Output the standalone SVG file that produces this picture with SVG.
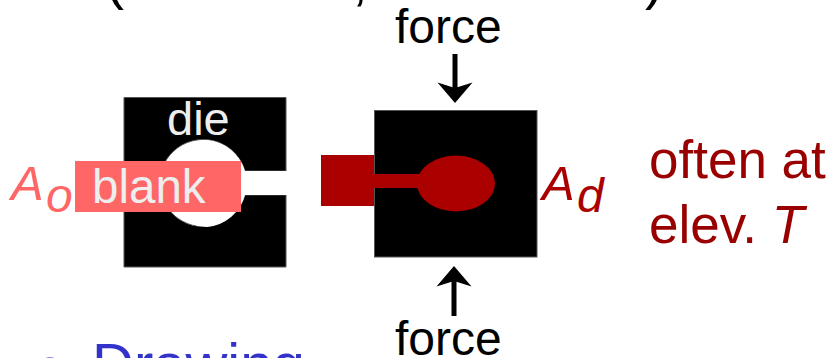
<svg xmlns="http://www.w3.org/2000/svg" width="829" height="358" viewBox="0 0 829 358">
<style>
text{font-family:"Liberation Sans",Arial,sans-serif;font-size:47px}
.it{font-style:italic}
.lt{fill:#EEEEEE}
.pk{fill:#FF6666}
.rd{fill:#AA0000}
.dr{fill:#990000}
.blk{fill:#000;stroke:#555;stroke-width:1}
.ar{stroke:#000;stroke-width:5;fill:none}
</style>
<defs><path id="head" d="M0 0L-17.500 -20.500L0 -15L17.500 -20.500Z" fill="#000"/></defs>
<rect width="829" height="358" fill="#fff"/>
<g id="clipped-top"><text x="105" y="-2" style="font-size:57px">(</text><text x="352" y="-1" style="font-size:57px">,</text><text x="645" y="-2" style="font-size:57px">)</text></g>
<g id="die-open">
<path class="blk" d="M124 97.500H286V171H245A43.500 43.500 0 1 0 245 195H286V267H124Z"/>
<path d="M207 140A43.500 43.500 0 0 1 245 171H286V195H245A43.500 43.500 0 0 1 207 227A43.500 43.500 0 0 1 207 140Z" fill="#fff"/>
<text class="lt" x="167" y="135">die</text>
</g>
<g id="blank">
<rect class="pk" x="75" y="161" width="166" height="51"/>
<text class="lt" x="92" y="203" style="font-size:47.500px">blank</text>
<text class="pk it" x="11" y="200" style="font-size:49px">A</text>
<text class="pk it" x="46" y="212" style="font-size:48px">o</text>
</g>
<g id="die-closed">
<rect class="blk" x="374.500" y="110.500" width="162.500" height="146.500"/>
<path class="rd" d="M321 155H374V174H425V188H374V206H321Z"/>
<ellipse class="rd" cx="456" cy="183.500" rx="39" ry="28"/>
<text class="rd it" x="542" y="200" style="font-size:49px">A</text>
<text class="rd it" x="577" y="212" style="font-size:48px">d</text>
</g>
<g id="note">
<text class="dr" x="649" y="178" style="font-size:53px">often at</text>
<text class="dr" x="649" y="243" style="font-size:53px">elev. <tspan class="it">T</tspan></text>
</g>
<g id="force-top"><text x="395" y="43" style="font-size:48px">force</text></g>
<g id="force-bottom"><text x="395" y="355" style="font-size:48px">force</text></g>
<g id="connectors">
<path class="ar" d="M455 54V90"/><use href="#head" transform="translate(455 103)"/>
<path class="ar" d="M454 316V280"/><use href="#head" transform="translate(454 266) rotate(180)"/>
</g>
<g id="clipped-bottom">
<text x="92" y="384" style="font-size:58px;fill:#3333CC">Drawing</text>
<circle cx="50" cy="367" r="10" fill="#3333CC" fill-opacity=".6"/>
</g>
</svg>
